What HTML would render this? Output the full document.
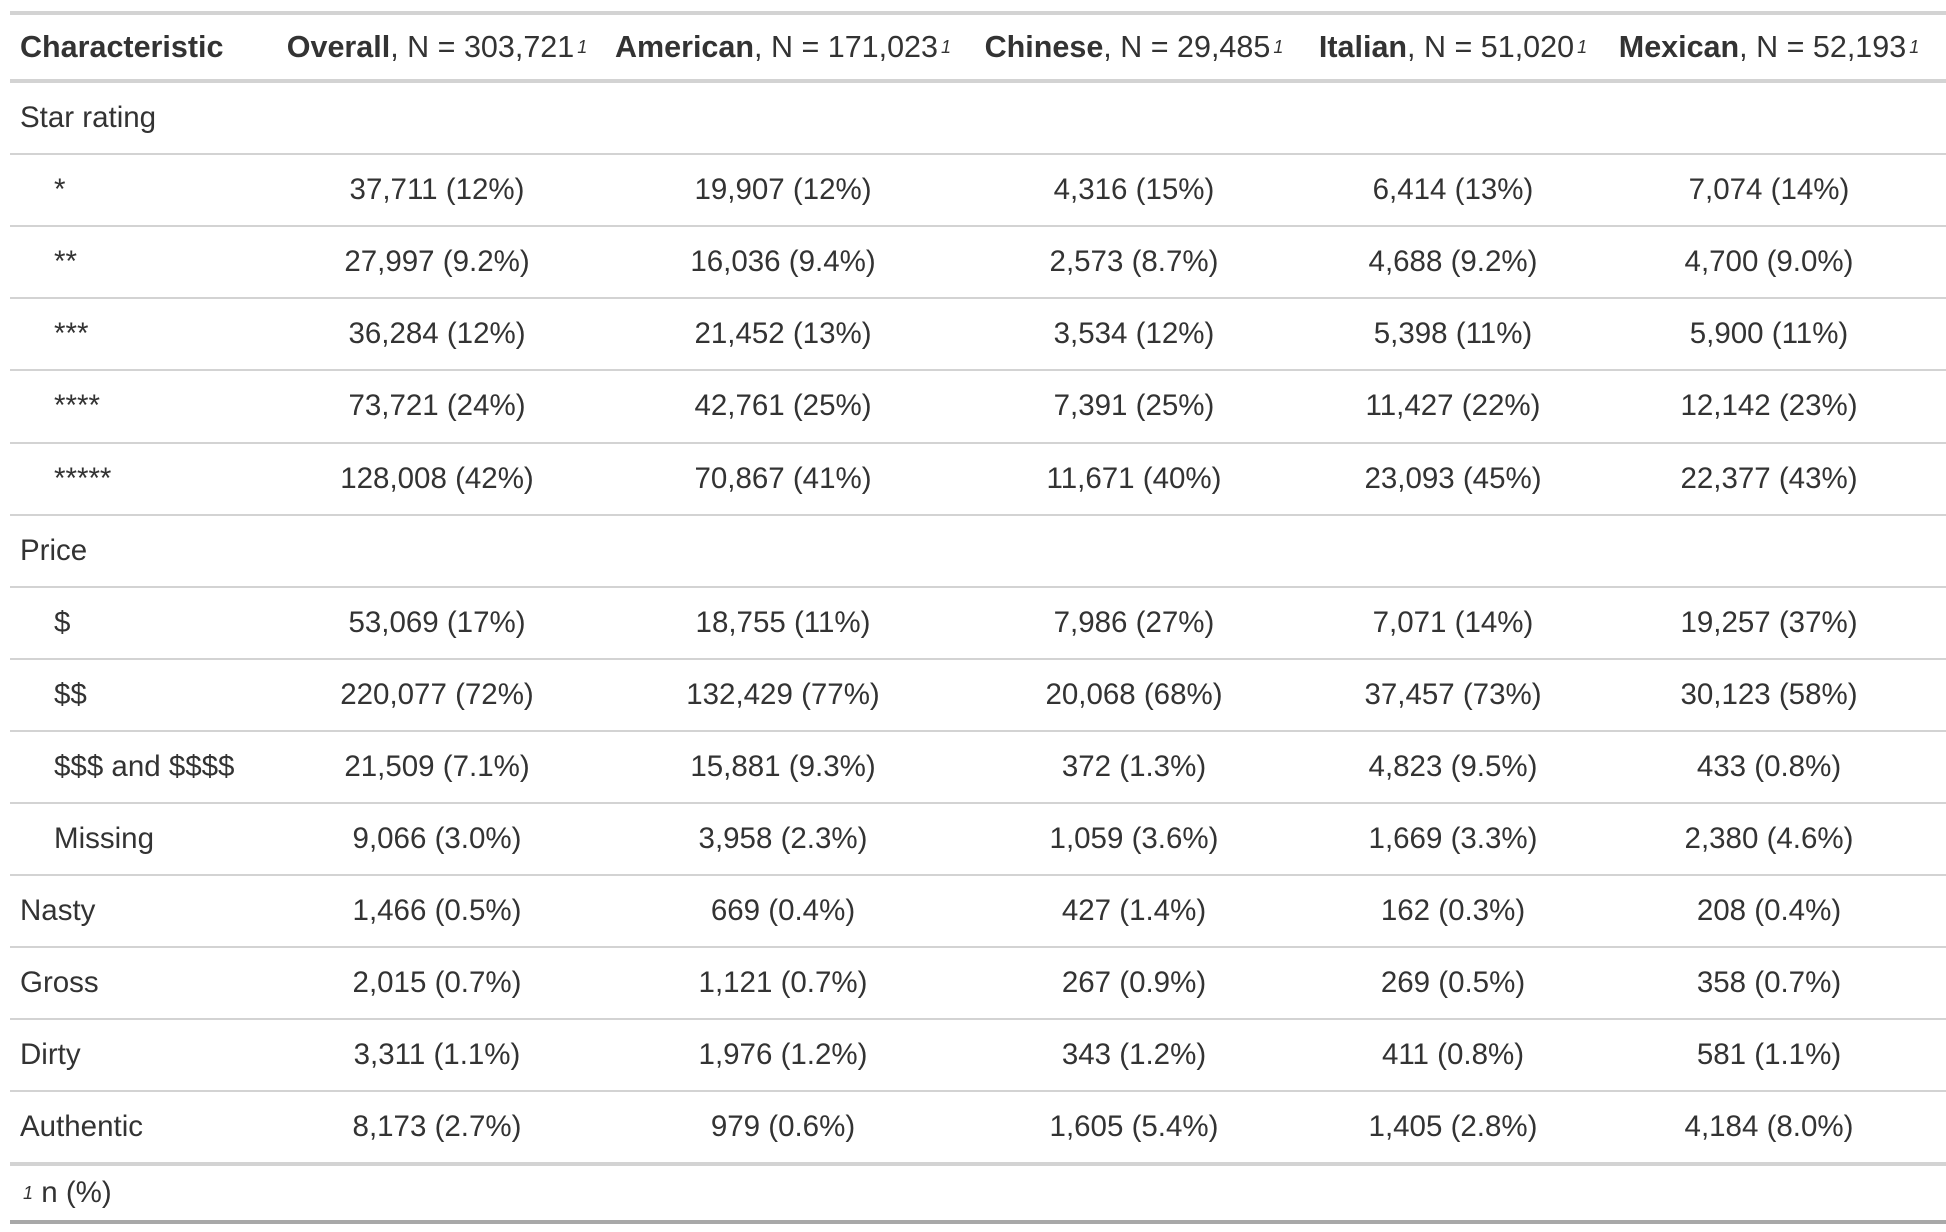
<!DOCTYPE html>
<html><head><meta charset="utf-8"><style>
body{margin:0;width:1946px;height:1232px;background:#fff;overflow:hidden;font-family:"Liberation Sans",sans-serif;color:#333;}
.row{position:absolute;left:10px;width:1936px;}
.c{position:absolute;top:0;height:100%;display:flex;align-items:center;justify-content:center;font-size:29.5px;white-space:nowrap;}
.h .c{font-size:30.5px;}
.c0{left:0;width:266px;justify-content:flex-start;padding-left:10px;}
.line{position:absolute;left:10px;width:1936px;background:#d3d3d3;}
sup{font-size:18px;font-style:italic;vertical-align:13px;margin-left:3px;}
b{font-weight:bold;}
</style></head><body>
<div id="t"></div>
<script>
const columns=["Overall","American","Chinese","Italian","Mexican"];
const totals=["303,721","171,023","29,485","51,020","52,193"];
const rowLabels=["Star rating","*","**","***","****","*****","Price","$","$$","$$$ and $$$$","Missing","Nasty","Gross","Dirty","Authentic"];
const indented=[false,true,true,true,true,true,false,true,true,true,true,false,false,false,false];
const cells=[
[],
["37,711 (12%)","19,907 (12%)","4,316 (15%)","6,414 (13%)","7,074 (14%)"],
["27,997 (9.2%)","16,036 (9.4%)","2,573 (8.7%)","4,688 (9.2%)","4,700 (9.0%)"],
["36,284 (12%)","21,452 (13%)","3,534 (12%)","5,398 (11%)","5,900 (11%)"],
["73,721 (24%)","42,761 (25%)","7,391 (25%)","11,427 (22%)","12,142 (23%)"],
["128,008 (42%)","70,867 (41%)","11,671 (40%)","23,093 (45%)","22,377 (43%)"],
[],
["53,069 (17%)","18,755 (11%)","7,986 (27%)","7,071 (14%)","19,257 (37%)"],
["220,077 (72%)","132,429 (77%)","20,068 (68%)","37,457 (73%)","30,123 (58%)"],
["21,509 (7.1%)","15,881 (9.3%)","372 (1.3%)","4,823 (9.5%)","433 (0.8%)"],
["9,066 (3.0%)","3,958 (2.3%)","1,059 (3.6%)","1,669 (3.3%)","2,380 (4.6%)"],
["1,466 (0.5%)","669 (0.4%)","427 (1.4%)","162 (0.3%)","208 (0.4%)"],
["2,015 (0.7%)","1,121 (0.7%)","267 (0.9%)","269 (0.5%)","358 (0.7%)"],
["3,311 (1.1%)","1,976 (1.2%)","343 (1.2%)","411 (0.8%)","581 (1.1%)"],
["8,173 (2.7%)","979 (0.6%)","1,605 (5.4%)","1,405 (2.8%)","4,184 (8.0%)"]
];
const colCenter=[0,427,773,1124,1443,1759];
const t=document.getElementById('t');
function line(y,h,color,name){const d=document.createElement('div');d.className='line';d.style.top=y+'px';d.style.height=h+'px';if(color)d.style.background=color;


t.appendChild(d);}
function row(y,h,name){const r=document.createElement('div');r.className='row';r.style.top=y+'px';r.style.height=h+'px';


t.appendChild(r);return r;}
function cell(r,i,html,name){const c=document.createElement('div');c.className='c'+(i===0?' c0':'');
if(i>0){c.style.left=(colCenter[i]-175)+'px';c.style.width='350px';}
c.innerHTML=html;


r.appendChild(c);return c;}
line(11,4,null,'top-border');
const hr=row(15,64,'header-row');
hr.classList.add('h');
cell(hr,0,'<b>Characteristic</b>','header-characteristic');
columns.forEach((c,i)=>cell(hr,i+1,'<b>'+c+'</b>, N = '+totals[i]+'<sup>1</sup>','header-'+c.toLowerCase()));
line(79,4,null,'header-border');
const top0=83,rh=72.1;
rowLabels.forEach((lab,k)=>{
 const y=top0+k*rh;
 const r=row(y,rh-2,'row-'+k);
 const c=cell(r,0,lab,'row-label');
 if(indented[k])c.style.paddingLeft='44px';
 (cells[k]||[]).forEach((v,j)=>cell(r,j+1,v,'cell-'+columns[j].toLowerCase()));
 if(k<rowLabels.length-1)line(Math.round(y+rh-2),2,null,'row-divider');
});
line(1162,4,null,'body-bottom-border');
const fr=row(1166,54,'footnote-row');
const fc=cell(fr,0,'<sup>1</sup>&nbsp;n (%)','footnote');
line(1220,4,'#a8a8a8','table-bottom-border');
</script>
</body></html>
